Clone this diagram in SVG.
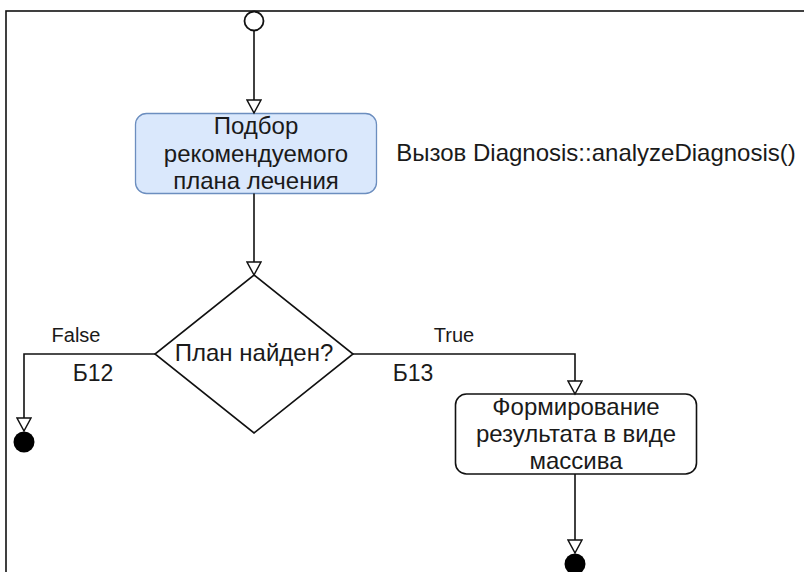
<svg xmlns="http://www.w3.org/2000/svg" width="804" height="572" viewBox="0 0 804 572">
<defs>
<style>
text{font-family:"Liberation Sans",Arial,sans-serif;fill:#1a1a1a;text-anchor:middle}
.t{font-size:24px}
.l{font-size:20px}
.s{font-size:23px}
.c{fill:none;stroke:#111;stroke-width:1.6}
</style>
<marker id="a" markerUnits="userSpaceOnUse" markerWidth="16" markerHeight="16" viewBox="0 0 16 16" refX="14" refY="8" orient="auto">
<path d="M1,1 L14,8 L1,15 z" fill="#fff" stroke="#111" stroke-width="1.5"/>
</marker>
</defs>
<rect x="6" y="11" width="820" height="600" fill="#fff" stroke="#111" stroke-width="1.6"/>
<g id="start"><circle cx="254" cy="21" r="9.5" fill="#fff" stroke="#111" stroke-width="1.8"/></g>
<g id="n1">
<rect x="135.5" y="113.5" width="241" height="80" rx="11" fill="#dae8fc" stroke="#6c8ebf" stroke-width="1.3"/>
<text class="t" x="256" y="134">Подбор</text>
<text class="t" x="256" y="162">рекомендуемого</text>
<text class="t" x="256" y="189">плана лечения</text>
</g>
<g id="note"><text class="t" x="596" y="161">Вызов Diagnosis::analyzeDiagnosis()</text></g>
<g id="d1">
<polygon points="254,275 353,354 254,433 155,354" fill="#fff" stroke="#111" stroke-width="1.6"/>
<text class="t" x="254" y="361">План найден?</text>
</g>
<g id="n2">
<rect x="455.5" y="394" width="241" height="80" rx="11" fill="#fff" stroke="#111" stroke-width="1.6"/>
<text class="t" x="576" y="415">Формирование</text>
<text class="t" x="576" y="442">результата в виде</text>
<text class="t" x="576" y="469">массива</text>
</g>
<g id="end1"><circle cx="24" cy="442" r="10.5" fill="#000"/></g>
<g id="end2"><circle cx="575" cy="564" r="10.5" fill="#000"/></g>
<g id="connectors">
<path class="c" d="M254,30.5 V113" marker-end="url(#a)"/>
<path class="c" d="M254,193.5 V275" marker-end="url(#a)"/>
<path class="c" d="M155,354 H24 V431" marker-end="url(#a)"/>
<path class="c" d="M353,354 H575 V394" marker-end="url(#a)"/>
<path class="c" d="M575,474 V553" marker-end="url(#a)"/>
<text class="l" x="76" y="342">False</text>
<text class="s" x="93" y="381">Б12</text>
<text class="l" x="454" y="342">True</text>
<text class="s" x="413" y="381">Б13</text>
</g>
</svg>
